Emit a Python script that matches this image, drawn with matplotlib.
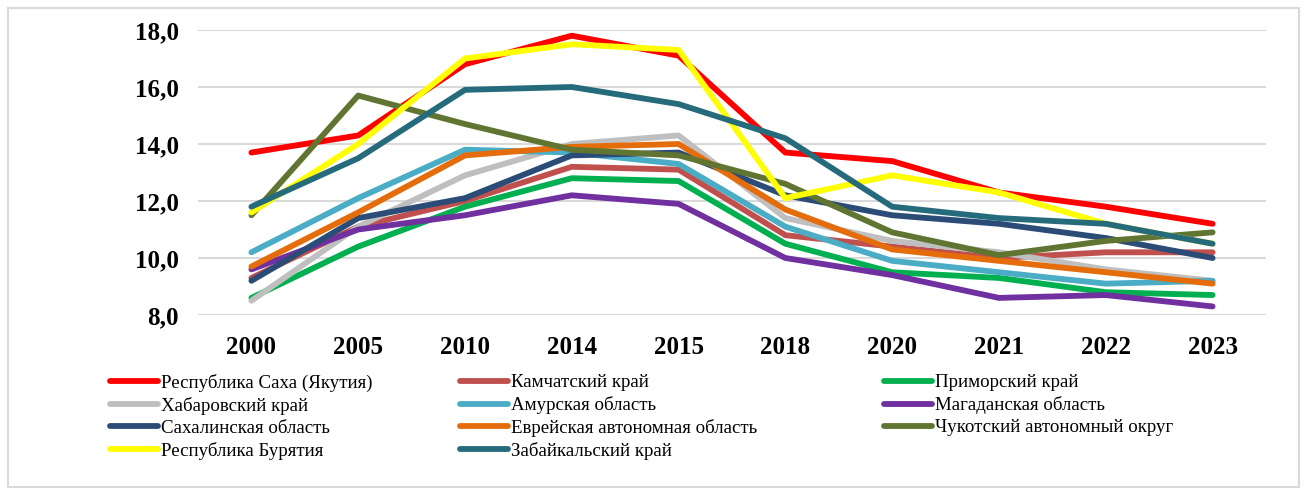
import matplotlib
matplotlib.use("Agg")
import matplotlib.pyplot as plt
from matplotlib.patches import Rectangle

# categories (years) on x axis
years = ["2000", "2005", "2010", "2014", "2015", "2018", "2020", "2021", "2022", "2023"]

# values
sakha = [13.7, 14.3, 16.8, 17.8, 17.1, 13.7, 13.4, 12.3, 11.8, 11.2]
kamchatka = [9.3, 11.1, 12.0, 13.2, 13.1, 10.8, 10.4, 10.0, 10.2, 10.2]
primorye = [8.6, 10.4, 11.8, 12.8, 12.7, 10.5, 9.5, 9.3, 8.8, 8.7]
khabarovsk = [8.5, 11.1, 12.9, 14.0, 14.3, 11.4, 10.6, 10.2, 9.6, 9.2]
amur = [10.2, 12.1, 13.8, 13.7, 13.3, 11.1, 9.9, 9.5, 9.1, 9.2]
magadan = [9.6, 11.0, 11.5, 12.2, 11.9, 10.0, 9.4, 8.6, 8.7, 8.3]
sakhalin = [9.2, 11.4, 12.1, 13.6, 13.7, 12.2, 11.5, 11.2, 10.7, 10.0]
jewish = [9.7, 11.6, 13.6, 13.9, 14.0, 11.7, 10.3, 9.9, 9.5, 9.1]
chukotka = [11.5, 15.7, 14.7, 13.8, 13.6, 12.6, 10.9, 10.1, 10.6, 10.9]
buryatia = [11.6, 14.0, 17.0, 17.5, 17.3, 12.1, 12.9, 12.3, 11.2, 10.5]
zabaikalsky = [11.8, 13.5, 15.9, 16.0, 15.4, 14.2, 11.8, 11.4, 11.2, 10.5]

names = ["Республика Саха (Якутия)", "Камчатский край", "Приморский край",
         "Хабаровский край", "Амурская область", "Магаданская область",
         "Сахалинская область", "Еврейская автономная область", "Чукотский автономный округ",
         "Республика Бурятия", "Забайкальский край"]
series = [sakha, kamchatka, primorye, khabarovsk, amur, magadan,
          sakhalin, jewish, chukotka, buryatia, zabaikalsky]
colors = ["#FF0000", "#C0504D", "#00B050", "#BFBFBF", "#4BACC6", "#7030A0",
          "#2B4C77", "#E46C0A", "#617532", "#FFFF00", "#266B7C"]

fig = plt.figure(figsize=(13.07, 4.88), dpi=100)
ax = fig.add_axes([198 / 1307, 1 - 315 / 488, (1266 - 198) / 1307, 285 / 488])

x = list(range(len(years)))
handles = []
for vals, name, col in zip(series, names, colors):
    (ln,) = ax.plot(x, vals, color=col, lw=4.2, solid_capstyle="round",
                    solid_joinstyle="round", label=name)
    handles.append(ln)

ax.set_xlim(-0.5, len(years) - 0.5)
ax.set_ylim(8, 18)
ax.set_yticks([8, 10, 12, 14, 16, 18])
ax.set_yticklabels([f"{v:.1f}".replace(".", ",") for v in [8, 10, 12, 14, 16, 18]])
ax.set_xticks(x)
ax.set_xticklabels(years)
for lbl in ax.get_xticklabels() + ax.get_yticklabels():
    lbl.set_fontfamily("Liberation Serif")
    lbl.set_fontweight("bold")
    lbl.set_fontsize(18)
ax.tick_params(axis="both", length=0)
ax.tick_params(axis="y", pad=14)
ax.tick_params(axis="x", pad=15)
ax.grid(axis="y", color="#D9D9D9", lw=1.5)
ax.set_axisbelow(True)
for s in ax.spines.values():
    s.set_visible(False)

# legend: three separate columns at their own x positions
cols = [[0, 3, 6, 9], [1, 4, 7, 10], [2, 5, 8]]
xs = [110, 460, 884]
for idx, xpos in zip(cols, xs):
    fig.legend([handles[i] for i in idx], [names[i] for i in idx],
               loc="upper left", bbox_to_anchor=(xpos / 1307, 1 - 374 / 488),
               frameon=False, prop={"family": "Liberation Serif", "size": 13.6},
               handlelength=2.55, handletextpad=0.15, labelspacing=0.26,
               borderpad=0, borderaxespad=0)

# outer chart frame
fig.patches.append(Rectangle((8 / 1307, 0.002), 1291 / 1307, 1 - 8 / 488 - 0.002,
                             transform=fig.transFigure, fill=False,
                             edgecolor="#D9D9D9", lw=1.5))

fig.savefig("out.png", dpi=100)
